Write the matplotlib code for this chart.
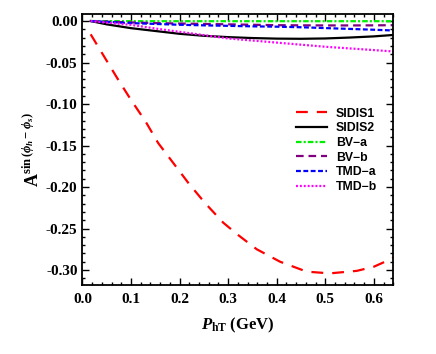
import numpy as np
import matplotlib
matplotlib.use("Agg")
import matplotlib.pyplot as plt
from matplotlib.ticker import MultipleLocator, FormatStrFormatter

matplotlib.rcParams.update({
    'font.family': 'Liberation Serif',
    'font.weight': 'bold',
    'mathtext.fontset': 'custom',
    'mathtext.rm': 'Liberation Serif',
    'mathtext.it': 'Liberation Serif:italic:bold',
    'mathtext.bf': 'Liberation Serif:bold',
    'axes.unicode_minus': True,
    'lines.scale_dashes': False,
})

# values
x_red = [0.017, 0.047, 0.074, 0.10, 0.13, 0.156, 0.187, 0.218, 0.252, 0.29,
         0.321, 0.359, 0.407, 0.462, 0.51, 0.565, 0.60, 0.623, 0.64]
sidis1 = [-0.016, -0.045, -0.071, -0.095, -0.121, -0.147, -0.171, -0.195, -0.219, -0.243,
          -0.258, -0.275, -0.290, -0.302, -0.304, -0.301, -0.296, -0.290, -0.285]

x = [0.017, 0.05, 0.1, 0.15, 0.2, 0.25, 0.3, 0.35, 0.4, 0.45, 0.5, 0.55, 0.6, 0.64]
sidis2 = [0, -0.004, -0.0086, -0.012, -0.0154, -0.0178, -0.0194, -0.0205, -0.0212,
          -0.0214, -0.021, -0.0199, -0.0185, -0.0168]
bv_a = [0, -0.0001, -0.0002, -0.0002, -0.0002, -0.0002, -0.0002, -0.0002, -0.0002,
        -0.0002, -0.0002, -0.0002, -0.0002, -0.0002]
bv_b = [0, -0.0008, -0.0017, -0.0025, -0.003, -0.0035, -0.004, -0.0045, -0.005,
        -0.0052, -0.0053, -0.0053, -0.0052, -0.0050]
tmd_a = [0, -0.001, -0.0025, -0.0035, -0.0045, -0.0052, -0.0058, -0.0064, -0.0068,
         -0.0075, -0.0085, -0.0095, -0.0105, -0.0114]
tmd_b = [0, -0.002, -0.0046, -0.009, -0.013, -0.017, -0.021, -0.0235, -0.026,
         -0.0285, -0.031, -0.033, -0.035, -0.0367]

fig = plt.figure(figsize=(4.36, 3.54), dpi=100)
ax = fig.add_axes([0.189, 0.195, 0.713, 0.766])

ax.plot(x_red, sidis1, color='red', lw=1.6, dashes=(8.5, 6.5), label='SIDIS1')
ax.plot(x, sidis2, color='black', lw=1.6, label='SIDIS2')
ax.plot(x, bv_a, color='#00ee00', lw=1.6, dashes=(4, 1.5, 1.5, 1.5), label='BV\u2212a')
ax.plot(x, bv_b, color='purple', lw=1.6, dashes=(5.5, 3.5), label='BV\u2212b')
ax.plot(x, tmd_a, color='blue', lw=1.6, dashes=(3.5, 1.8), label='TMD\u2212a')
ax.plot(x, tmd_b, color='magenta', lw=1.6, dashes=(1.4, 1.4), label='TMD\u2212b')

ax.set_xlim(0, 0.64)
ax.set_ylim(-0.318, 0.0087)
ax.xaxis.set_major_locator(MultipleLocator(0.1))
ax.xaxis.set_minor_locator(MultipleLocator(0.02))
ax.yaxis.set_major_locator(MultipleLocator(0.05))
ax.yaxis.set_minor_locator(MultipleLocator(0.01))
ax.xaxis.set_major_formatter(FormatStrFormatter('%.1f'))
ax.yaxis.set_major_formatter(FormatStrFormatter('%.2f'))
ax.tick_params(which='both', direction='in', top=True, right=True, labelsize=11, width=1)
ax.tick_params(which='major', length=5)
ax.tick_params(which='minor', length=2.5)
ax.tick_params(axis='x', pad=6)
for lab in ax.get_xticklabels() + ax.get_yticklabels():
    lab.set_fontweight('bold')
for s in ax.spines.values():
    s.set_linewidth(1.3)

ax.set_xlabel(r'$P_{\mathbf{hT}}$ (GeV)', fontsize=12, fontweight='bold', labelpad=7)
ax.set_ylabel(r'$\mathrm{A}^{\mathbf{sin}\,(\phi_h - \phi_s)}$', fontsize=13, labelpad=2)

leg = ax.legend(loc='upper left', bbox_to_anchor=(0.67, 0.672), frameon=False,
                prop={'family': 'Liberation Sans', 'weight': 'bold', 'size': 8.8},
                handlelength=2.6, handletextpad=0.7, labelspacing=0.22, borderaxespad=0)

plt.savefig('out.png', dpi=100)
